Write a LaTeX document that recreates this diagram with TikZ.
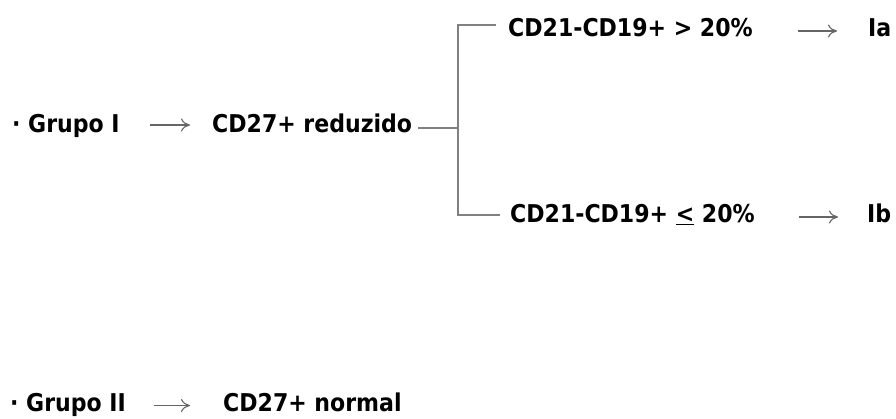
\documentclass[tikz,border=0pt]{standalone}
\usepackage{fontspec}
\setmainfont{DejaVu Sans Condensed}
\usetikzlibrary{arrows.meta}
\begin{document}
\begin{tikzpicture}[x=1pt,y=1pt,
  txt/.style={anchor=base west,inner sep=0pt,font=\fontsize{24.5}{29}\selectfont\bfseries},
  conn/.style={draw=gray,line width=1.4pt},
  arr/.style={draw=black!60,line width=1.1pt,-{Computer Modern Rightarrow[length=9pt,width=13pt]}}]
\useasboundingbox (0,0) rectangle (896,418);
% nodes
\node[txt] (g1) at (12,285) {· Grupo I};
\node[txt] (r1) at (212,285) {CD27+ reduzido};
\node[txt] (a) at (508,381) {CD21-CD19+ > 20\%};
\node[txt] (ia) at (868,381) {Ia};
\node[txt] (b) at (510,195) {CD21-CD19+ \underline{<} 20\%};
\node[txt] (ib) at (867,195) {Ib};
\node[txt] (g2) at (10,6.5) {· Grupo II};
\node[txt] (n2) at (223,6.5) {CD27+ normal};
% branching connectors
\coordinate (fork) at (458,290);
\coordinate (top) at (458,393);
\coordinate (bot) at (458,203);
\draw[conn] ([xshift=6pt,yshift=5pt]r1.base east) -- (fork);
\draw[conn] ([xshift=-12pt]a.west |- top) -- (top) -- (bot) -- ([xshift=-10pt]b.west |- bot);
% arrows
\draw[arr,shorten <=30pt,shorten >=22pt] ([yshift=8pt]g1.base east) -- ([yshift=8pt]r1.base west);
\draw[arr,shorten <=45pt,shorten >=31pt] ([yshift=6pt]a.base east) -- ([yshift=6pt]ia.base west);
\draw[arr,shorten <=44pt,shorten >=29pt] ([yshift=6pt]b.base east) -- ([yshift=6pt]ib.base west);
\draw[arr,shorten <=28pt,shorten >=33pt] ([yshift=6pt]g2.base east) -- ([yshift=6pt]n2.base west);
\end{tikzpicture}
\end{document}
